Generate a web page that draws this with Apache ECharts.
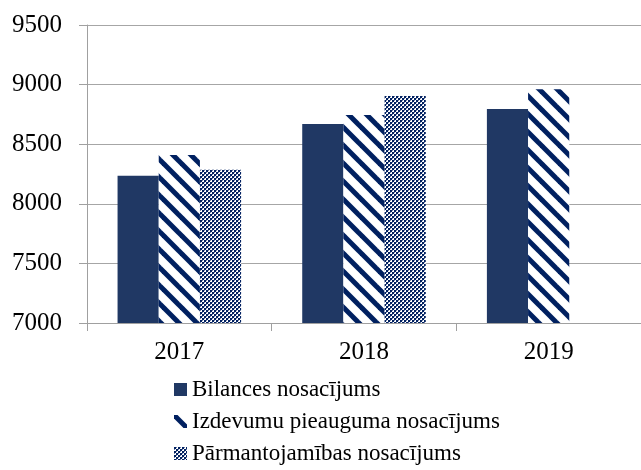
<!doctype html>
<html>
    <head>
        <meta charset="utf-8">
        <style>
            html, body { margin: 0; padding: 0; background: #fff; }
            #main { width: 641px; height: 470px; }
        </style>
    </head>
    <body>
        <div id="main"></div>
        <script src="https://cdn.jsdelivr.net/npm/echarts@6/dist/echarts.min.js"></script>
        <script>
            var years = ['2017', '2018', '2019'];
            var bilances = [8235, 8670, 8795];
            var izdevumu = [8410, 8745, 8960];
            var parmantojamibas = [8285, 8905, null];
            var seriesNames = ['Bilances nosacījums', 'Izdevumu pieauguma nosacījums', 'Pārmantojamības nosacījums'];

            var navy = '#002060';

            // diagonal stripes, top-left to bottom-right
            function stripePattern() {
                var c = document.createElement('canvas');
                c.width = 18; c.height = 18;
                var ctx = c.getContext('2d');
                ctx.fillStyle = '#fff';
                ctx.fillRect(0, 0, 18, 18);
                ctx.strokeStyle = navy;
                ctx.lineWidth = 5;
                for (var k = -18; k <= 18; k += 18) {
                    ctx.beginPath();
                    ctx.moveTo(k - 2, -2);
                    ctx.lineTo(k + 20, 20);
                    ctx.stroke();
                }
                return c;
            }

            // small checker
            function checkPattern() {
                var c = document.createElement('canvas');
                c.width = 4; c.height = 4;
                var ctx = c.getContext('2d');
                ctx.fillStyle = '#fff';
                ctx.fillRect(0, 0, 4, 4);
                ctx.fillStyle = navy;
                ctx.fillRect(0, 0, 2, 2);
                ctx.fillRect(2, 2, 2, 2);
                ctx.fillStyle = '#7080a8';
                ctx.fillRect(2, 0, 1, 1);
                ctx.fillRect(0, 2, 1, 1);
                return c;
            }

            var chart = echarts.init(document.getElementById('main'));

            var font = 'Liberation Serif';

            chart.setOption({
                animation: false,
                textStyle: { fontFamily: font },
                grid: { left: 87, right: -5, top: 25, bottom: 147 },
                legend: {
                    orient: 'vertical',
                    left: 169,
                    top: 373,
                    height: 120,
                    itemWidth: 13,
                    itemHeight: 13,
                    itemGap: 9,
                    icon: 'rect',
                    textStyle: { fontFamily: font, fontSize: 23, color: '#000' },
                    data: seriesNames
                },
                xAxis: {
                    type: 'category',
                    data: years,
                    axisLine: { lineStyle: { color: '#a0a0a0' } },
                    axisTick: { show: true, length: 8, lineStyle: { color: '#a0a0a0' } },
                    axisLabel: { fontFamily: font, fontSize: 25, color: '#000', margin: 17 }
                },
                yAxis: {
                    type: 'value',
                    min: 7000,
                    max: 9500,
                    interval: 500,
                    axisLine: { show: true, lineStyle: { color: '#a0a0a0' } },
                    axisTick: { show: true, length: 8, lineStyle: { color: '#a0a0a0' } },
                    splitLine: { lineStyle: { color: '#a6a6a6', width: 1 } },
                    axisLabel: {
                        fontFamily: font, fontSize: 25, color: '#000', margin: 25,
                        formatter: function (v) { return String(v); }
                    }
                },
                series: [
                    {
                        name: seriesNames[0],
                        type: 'bar',
                        data: bilances,
                        barWidth: '22.3%',
                        barGap: '0%',
                        itemStyle: { color: '#203864' }
                    },
                    {
                        name: seriesNames[1],
                        type: 'bar',
                        data: izdevumu,
                        barWidth: '22.3%',
                        barGap: '0%',
                        itemStyle: { color: { image: stripePattern(), repeat: 'repeat' } }
                    },
                    {
                        name: seriesNames[2],
                        type: 'bar',
                        data: parmantojamibas,
                        barWidth: '22.3%',
                        barGap: '0%',
                        itemStyle: { color: { image: checkPattern(), repeat: 'repeat' } }
                    }
                ]
            });

            window.onresize = chart.resize;
        </script>
    </body>
</html>
